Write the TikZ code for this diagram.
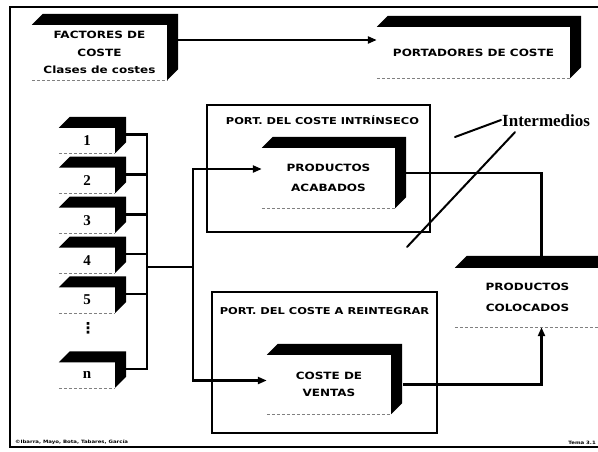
\documentclass[tikz,border=0pt]{standalone}
\usepackage{fontspec}
\setmainfont{Liberation Serif}
\newfontfamily\heavyfont{DejaVu Sans Bold}[FakeStretch=1.2]
\newfontfamily\symfont{DejaVu Sans}
\usetikzlibrary{positioning,arrows.meta,calc}

% black top and right faces of a raised box, plus its thin base line
\newcommand{\slab}[2][11pt]{%
  \fill ([xshift=#1,yshift=#1]#2.north west) -- (#2.north west) -- (#2.north east)
     -- (#2.south east) -- ([xshift=#1,yshift=#1]#2.south east)
     -- ([xshift=#1,yshift=#1]#2.north east) -- cycle;
  \draw[rim] (#2.south west) -- (#2.south east);}

\begin{document}
\begin{tikzpicture}[
    x=1pt, y=-1pt,
    node distance=14.5pt,
    every node/.style={align=center},
    cube/.style={rectangle, inner sep=0pt, font=\heavyfont\fontsize{10}{17.5}\selectfont},
    numbox/.style={rectangle, inner sep=0pt, minimum width=56pt, minimum height=25pt, font=\bfseries\fontsize{15}{15}\selectfont},
    pane/.style={draw, line width=2.5pt, inner sep=0pt},
    tag/.style={font=\heavyfont\fontsize{9.5}{10}\selectfont, inner sep=0pt},
    wire/.style={line width=2.5pt},
    arr/.style={wire, -{Triangle[length=9pt,width=7pt]}},
    rim/.style={thin, densely dashed, gray},
    ptr/.style={line width=2pt, line cap=round}
]
\clip (0,0) rectangle (598,451);
\fill[white] (0,0) rectangle (598,451);

% slide border
\draw[wire] (598,7) -- (10,7) -- (10,447) -- (598,447);

% =========================================================
% top row
% =========================================================
\node[cube, minimum width=135pt, minimum height=55pt] (fac) at (99.5,52.5) {FACTORES DE\\COSTE\\Clases de costes};
\node[cube, minimum width=193pt, minimum height=51pt] (port) at (473.5,52.5) {PORTADORES DE COSTE};
\slab{fac}
\slab{port}
\draw[arr] ([xshift=10pt,yshift=12.5pt]fac.east) -- ([yshift=12.5pt]port.west);

% =========================================================
% cost classes
% =========================================================
\node[numbox] (n1) at (87,140.5) {1};
\node[numbox, below=of n1] (n2) {2};
\node[numbox, below=of n2] (n3) {3};
\node[numbox, below=of n3] (n4) {4};
\node[numbox, below=of n4] (n5) {5};
\node[font=\symfont\bfseries\fontsize{15}{15}\selectfont, inner sep=0pt] (dots) at (88,328) {⋮};
\node[numbox] (nn) at (87,375) {n};
\slab{n1} \slab{n2} \slab{n3} \slab{n4} \slab{n5} \slab{nn}

\coordinate (bus) at (147,267);
\coordinate (split) at (193,267);
\draw[wire] ([xshift=11pt,yshift=6pt]n1.east) -| (bus) |- ([xshift=11pt,yshift=6pt]nn.east);
\draw[wire] ([xshift=11pt,yshift=6pt]n2.east) -| (bus);
\draw[wire] ([xshift=11pt,yshift=6pt]n3.east) -| (bus);
\draw[wire] ([xshift=11pt,yshift=6pt]n4.east) -| (bus);
\draw[wire] ([xshift=11pt,yshift=6pt]n5.east) -| (bus);
\draw[wire] (bus) -- (split);

% =========================================================
% cost carriers
% =========================================================
\node[pane, minimum width=223pt, minimum height=127pt] (intr) at (318.5,168.5) {};
\node[tag, below=12pt of intr.north, xshift=4pt] (intrt) {PORT. DEL COSTE INTRÍNSECO};
\node[pane, minimum width=225pt, minimum height=141pt] (rein) at (324.5,362.5) {};
\node[tag, below=16pt of rein.north] (reint) {PORT. DEL COSTE A REINTEGRAR};

\node[cube, minimum width=133pt, minimum height=60pt] (acab) at (328.5,178) {PRODUCTOS\\[2pt]ACABADOS};
\node[cube, minimum width=124pt, minimum height=59pt] (vent) at (329,384.5) {COSTE DE\\VENTAS};
\node[cube, minimum width=145pt, minimum height=59pt] (coloc) at (527.5,297.5) {PRODUCTOS\\[4pt]COLOCADOS};
\slab{acab}
\slab{vent}
\slab[12pt]{coloc}

\draw[arr] (split) |- ([yshift=9pt]acab.west);
\draw[arr] (split) |- ([yshift=4pt]vent.west);
\draw[wire] ([xshift=11pt,yshift=5pt]acab.east) -| ([xshift=14pt,yshift=12pt]coloc.north);
\draw[arr] ([xshift=12pt]vent.east) -| ([xshift=14pt]coloc.south);

% intermediate products
\node[font=\bfseries\fontsize{17}{17}\selectfont, anchor=west, inner sep=1pt] (inter) at (501,121) {Intermedios};
\coordinate (p1) at (455,137);
\coordinate (p2) at (407,247);
\draw[ptr] (p1) -- ([yshift=1pt]inter.west);
\draw[ptr] ([xshift=14pt,yshift=-4pt]inter.south west) -- (p2);

% footer
\node[font=\heavyfont\fontsize{4.5}{5}\selectfont, anchor=south west, inner sep=0pt] (credit) at (15,445) {©Ibarra, Mayo, Bota, Tabares, García};
\node[font=\heavyfont\fontsize{4.5}{5}\selectfont, anchor=south east, inner sep=0pt] (page) at (596,445) {Tema 3.1};

\end{tikzpicture}
\end{document}
